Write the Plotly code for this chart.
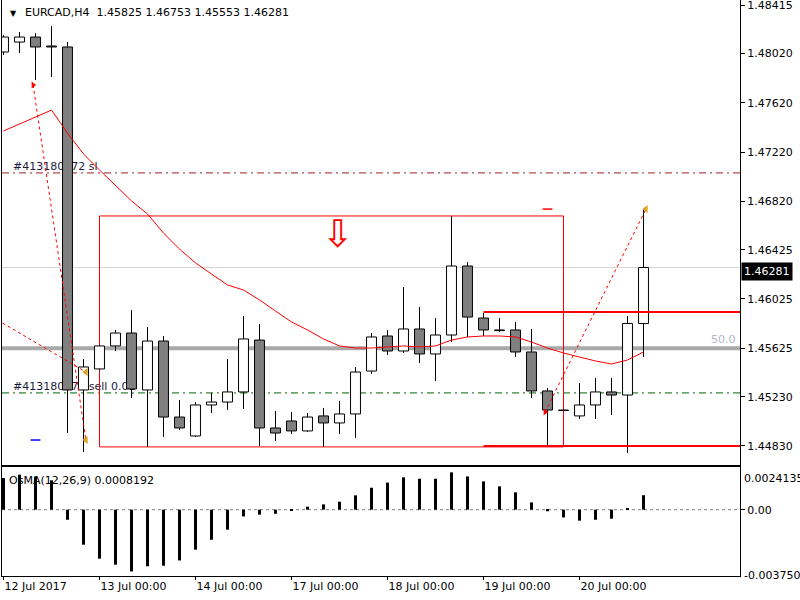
import plotly.graph_objects as go

# ---------------- data ----------------
idx = list(range(41))
opens = [1.48033, 1.48114, 1.48155, 1.48082, 1.48074, 1.45285, 1.45456, 1.45643, 1.45748, 1.45285,
         1.45683, 1.45065, 1.44911, 1.45163, 1.45187, 1.45269, 1.45691, 1.44976, 1.45033, 1.44952,
         1.45074, 1.45017, 1.45090, 1.45439, 1.45724, 1.45602, 1.45781, 1.45578, 1.45732, 1.46293,
         1.45870, 1.45773, 1.45773, 1.45594, 1.45277, 1.45122, 1.45074, 1.45163, 1.45269, 1.45244,
         1.45825]
highs = [1.48171, 1.48196, 1.48187, 1.48244, 1.48114, 1.45537, 1.45651, 1.45773, 1.45935, 1.45797,
         1.45724, 1.45204, 1.45187, 1.45261, 1.45537, 1.45887, 1.45822, 1.45114, 1.45106, 1.45098,
         1.45139, 1.45196, 1.45472, 1.45748, 1.45773, 1.46122, 1.45960, 1.45870, 1.46700, 1.46326,
         1.45911, 1.45870, 1.45838, 1.45781, 1.45301, 1.45126, 1.45342, 1.45383, 1.45383, 1.45887,
         1.46753]
lows = [1.48009, 1.48025, 1.47805, 1.47830, 1.44935, 1.44781, 1.45448, 1.45602, 1.45220, 1.44822,
        1.44903, 1.44960, 1.44903, 1.45098, 1.45122, 1.45131, 1.44830, 1.44870, 1.44927, 1.44944,
        1.44822, 1.44927, 1.44895, 1.45415, 1.45570, 1.45586, 1.45505, 1.45358, 1.45675, 1.45716,
        1.45724, 1.45757, 1.45553, 1.45220, 1.44830, 1.45114, 1.45049, 1.45049, 1.45082, 1.44773,
        1.45553]
closes = [1.48155, 1.48155, 1.48074, 1.48074, 1.45285, 1.45472, 1.45643, 1.45748, 1.45293, 1.45683,
          1.45065, 1.44976, 1.45163, 1.45187, 1.45269, 1.45700, 1.44976, 1.44935, 1.44952, 1.45065,
          1.45017, 1.45090, 1.45431, 1.45716, 1.45602, 1.45781, 1.45578, 1.45732, 1.46293, 1.45878,
          1.45773, 1.45768, 1.45594, 1.45277, 1.45122, 1.45118, 1.45163, 1.45269, 1.45244, 1.45826,
          1.46281]
ma = [1.47391, 1.47448, 1.47504, 1.47561, 1.47374, 1.47204, 1.47074, 1.46952, 1.46822, 1.46716,
      1.46561, 1.46431, 1.46318, 1.46228, 1.46139, 1.46098, 1.46017, 1.45927, 1.45838, 1.45773,
      1.45700, 1.45643, 1.45626, 1.45626, 1.45635, 1.45643, 1.45635, 1.45643, 1.45691, 1.45716,
      1.45724, 1.45724, 1.45716, 1.45675, 1.45626, 1.45586, 1.45553, 1.45521, 1.45496, 1.45529,
      1.45594]
osma = [0.00179, 0.00198, 0.00188, 0.00166, -0.00057, -0.00198, -0.00277, -0.00311, -0.00349, -0.00320,
        -0.00317, -0.00287, -0.00226, -0.00170, -0.00113, -0.00038, -0.00028, -0.00023, -0.00002, 0.00017,
        0.00030, 0.00045, 0.00081, 0.00124, 0.00153, 0.00183, 0.00175, 0.00175, 0.00211, 0.00188,
        0.00160, 0.00132, 0.00098, 0.00041, -0.00009, -0.00044, -0.00062, -0.00057, -0.00051, 0.00004,
        0.0008192]

date_ticks = [0, 6, 12, 18, 24, 30, 36]
date_labels = ['12 Jul 2017', '13 Jul 00:00', '14 Jul 00:00', '17 Jul 00:00',
               '18 Jul 00:00', '19 Jul 00:00', '20 Jul 00:00']
price_ticks = [1.48415, 1.48020, 1.47620, 1.47220, 1.46820, 1.46425, 1.46025, 1.45625, 1.45230, 1.44830]
price_range = [1.44675, 1.48456]
osma_range = [-0.00375, 0.0024135]
osma_labels = ['0.0024135', '0.00', '-0.003750']

bid = 1.46281
fib50 = 1.45625
sl_level = 1.47050
sell_level = 1.45261
box_x = [6, 35]
box_y = [1.44822, 1.46700]
ray_start = 30
ray_levels = [1.45919, 1.44830]
signal_x, signal_y = 20.9, 1.46553

# trades: (open idx, open price, close idx, close price)
trades = [(-2, 1.45978, 5.15, 1.45431),
          (1.85, 1.47765, 5.15, 1.44878),
          (33.85, 1.45106, 40.15, 1.46756)]
tp_marks = [(2, 1.44878, 'blue'), (34, 1.46756, 'red')]

header = 'EURCAD,H4\u00a0 1.45825 1.46753 1.45553 1.46281'
FONT = 'DejaVu Sans'

x_lo = -0.09375
x_hi = x_lo + 738 / 16

fig = go.Figure()

# wicks
wx, wy = [], []
for i, o, h, l, c in zip(idx, opens, highs, lows, closes):
    lo_b, hi_b = min(o, c), max(o, c)
    wx += [i, i, None, i, i, None]
    wy += [l, lo_b, None, hi_b, h, None]
fig.add_trace(go.Scatter(x=wx, y=wy, mode='lines', line=dict(color='black', width=1),
                         xaxis='x', yaxis='y', hoverinfo='skip'))

# bodies
fig.add_trace(go.Bar(
    x=idx,
    base=[min(o, c) for o, c in zip(opens, closes)],
    y=[abs(c - o) for o, c in zip(opens, closes)],
    width=0.62,
    marker=dict(color=['white' if c > o else '#808080' for o, c in zip(opens, closes)],
                line=dict(color='black', width=1)),
    xaxis='x', yaxis='y', hoverinfo='skip'))

# moving average
fig.add_trace(go.Scatter(x=idx, y=ma, mode='lines', line=dict(color='red', width=1),
                         xaxis='x', yaxis='y', hoverinfo='skip'))

# trade lines
for ox, op, cx, cp in trades:
    fig.add_trace(go.Scatter(x=[ox, cx], y=[op, cp], mode='lines',
                             line=dict(color='red', width=1, dash='3px,3px'),
                             xaxis='x', yaxis='y', hoverinfo='skip'))
# open markers
fig.add_trace(go.Scatter(x=[t[0] for t in trades[1:]], y=[t[1] for t in trades[1:]], mode='markers',
                         marker=dict(symbol='triangle-right', size=6, color='red'),
                         xaxis='x', yaxis='y', hoverinfo='skip'))
# close markers
fig.add_trace(go.Scatter(x=[t[2] for t in trades], y=[t[3] for t in trades], mode='markers',
                         marker=dict(symbol='triangle-left', size=7, color='#daa520'),
                         xaxis='x', yaxis='y', hoverinfo='skip'))
# tp marks
for tx, ty, col in tp_marks:
    fig.add_trace(go.Scatter(x=[tx], y=[ty], mode='markers',
                             marker=dict(symbol='line-ew-open', size=7, color=col,
                                         line=dict(color=col, width=1.5)),
                             xaxis='x', yaxis='y', hoverinfo='skip'))

# OsMA histogram
fig.add_trace(go.Bar(x=idx, y=osma, width=0.19, marker=dict(color='black', line=dict(width=0)),
                     xaxis='x2', yaxis='y2', hoverinfo='skip'))

shapes = [
    dict(type='line', xref='x domain', x0=0, x1=1, yref='y', y0=fib50, y1=fib50,
         line=dict(color='#a9a9a9', width=4), layer='below'),
    dict(type='line', xref='x domain', x0=0, x1=1, yref='y', y0=bid, y1=bid,
         line=dict(color='#d6d6d6', width=1), layer='below'),
    dict(type='line', xref='x domain', x0=0, x1=1, yref='y', y0=sl_level, y1=sl_level,
         line=dict(color='#9e2020', width=1, dash='7px,4px,2px,4px'), layer='below'),
    dict(type='line', xref='x domain', x0=0, x1=1, yref='y', y0=sell_level, y1=sell_level,
         line=dict(color='#006400', width=1, dash='7px,4px,2px,4px'), layer='below'),
    dict(type='line', xref='x', x0=0.6, x1=10, yref='y', y0=sl_level, y1=sl_level,
         line=dict(color='rgba(0,0,0,0)', width=0), layer='below',
         label=dict(text='#413180072 sl', textposition='start', xanchor='left', yanchor='bottom',
                    padding=1, font=dict(family=FONT, size=11, color='#1c1c3c'))),
    dict(type='line', xref='x', x0=0.6, x1=10, yref='y', y0=sell_level, y1=sell_level,
         line=dict(color='rgba(0,0,0,0)', width=0), layer='below',
         label=dict(text='#413180072 sell 0.01', textposition='start', xanchor='left', yanchor='bottom',
                    padding=1, font=dict(family=FONT, size=11, color='#1c1c3c'))),
    dict(type='rect', xref='x', x0=box_x[0], x1=box_x[1], yref='y', y0=box_y[0], y1=box_y[1],
         line=dict(color='red', width=1), fillcolor='rgba(0,0,0,0)', layer='below'),
    dict(type='line', xref='x2 domain', x0=0, x1=1, yref='y2', y0=0, y1=0,
         line=dict(color='#808080', width=1, dash='3px,3px'), layer='below'),
]
for lv in ray_levels:
    shapes.append(dict(type='line', xref='x', x0=ray_start, x1=x_hi + 1, yref='y', y0=lv, y1=lv,
                       line=dict(color='red', width=2), layer='above'))

annotations = [
    dict(xref='paper', yref='paper', x=0, y=1, xanchor='left', yanchor='middle', xshift=6, yshift=-13,
         text='\u25bc', showarrow=False, font=dict(family=FONT, size=8, color='black')),
    dict(xref='paper', yref='paper', x=0, y=1, xanchor='left', yanchor='middle', xshift=21, yshift=-12,
         text=header, showarrow=False, font=dict(family=FONT, size=11, color='black')),
    dict(xref='paper', yref='y', x=1, y=fib50, xanchor='right', yanchor='bottom', xshift=-2, yshift=0,
         text='50.0', showarrow=False, font=dict(family=FONT, size=11, color='#b2b8c6')),
    dict(xref='paper', yref='y', x=1, y=bid, xanchor='left', yanchor='middle', xshift=1, yshift=-4,
         text='1.46281', showarrow=False, bgcolor='black', borderpad=2,
         font=dict(family=FONT, size=11, color='white')),
    dict(xref='paper', yref='paper', x=0, y=0.18924, xanchor='left', yanchor='top', xshift=5, yshift=-5,
         text='OsMA(12,26,9) 0.0008192', showarrow=False, font=dict(family=FONT, size=11, color='black')),
    dict(xref='paper', yref='y2', x=1, y=osma_range[1], xanchor='left', yanchor='top', xshift=2, yshift=-3,
         text=osma_labels[0], showarrow=False, font=dict(family=FONT, size=11, color='black')),
    dict(xref='paper', yref='y2', x=1, y=osma_range[0], xanchor='left', yanchor='middle', xshift=2, yshift=0,
         text=osma_labels[2], showarrow=False, font=dict(family=FONT, size=11, color='black')),
    dict(xref='x', yref='y', x=signal_x, y=signal_y, xanchor='center', yanchor='middle',
         text='\u21e9', showarrow=False, font=dict(family=FONT, size=38, color='red')),
]

axis_common = dict(showgrid=False, zeroline=False, showline=True, linecolor='black', linewidth=1,
                   tickfont=dict(family=FONT, size=11, color='black'), tickcolor='black')

fig.update_layout(
    width=800, height=600,
    margin=dict(l=2, r=60, t=0, b=24),
    paper_bgcolor='white', plot_bgcolor='white',
    showlegend=False, hovermode=False,
    shapes=shapes, annotations=annotations,
    xaxis=dict(domain=[0, 1], anchor='y', range=[x_lo, x_hi], showticklabels=False, ticks='',
               **axis_common),
    yaxis=dict(domain=[0.19271, 1], anchor='x', side='right', range=price_range, mirror=True,
               tickvals=price_ticks, ticktext=[f'{v:.5f}' for v in price_ticks],
               ticks='outside', ticklen=4, ticklabeloverflow='allow', **axis_common),
    xaxis2=dict(domain=[0, 1], anchor='y2', range=[x_lo, x_hi], matches='x', mirror=True,
                tickvals=date_ticks, ticktext=date_labels, ticks='outside', ticklen=3,
                ticklabelposition='outside right', **axis_common),
    yaxis2=dict(domain=[0, 0.18924], anchor='x2', side='right', range=osma_range, mirror=True,
                tickvals=[0], ticktext=[osma_labels[1]], ticks='outside', ticklen=4, **axis_common),
)

fig.write_html('out.html')
